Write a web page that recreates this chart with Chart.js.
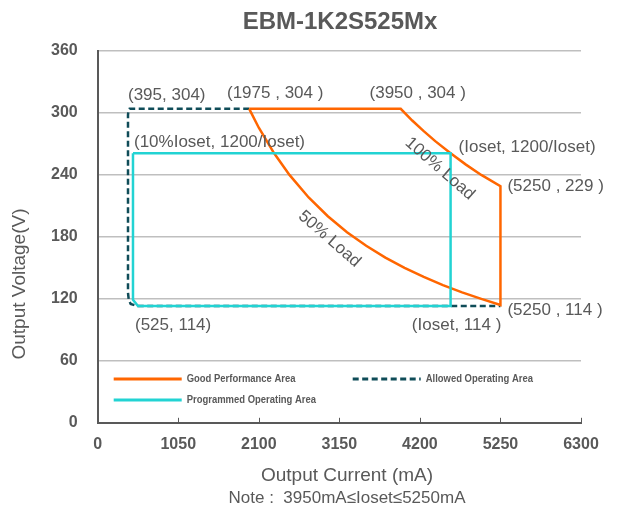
<!DOCTYPE html>
<html>
<head>
<meta charset="utf-8">
<script src="https://cdn.jsdelivr.net/npm/chart.js@4.4.0/dist/chart.umd.min.js"></script>
<style>
  html, body { margin: 0; padding: 0; background: #fff; }
  #wrap { width: 619px; height: 512px; }
</style>
</head>
<body>
<div id="wrap"><canvas id="chart" width="619" height="512"></canvas></div>
<script>
// --- DATA ---
const chartTitle = 'EBM-1K2S525Mx';
const xTitle = 'Output Current (mA)';
const yTitle = 'Output Voltage(V)';
const noteLine = 'Note :  3950mA≤Ioset≤5250mA';

const xMin = 0, xMax = 6300, xStep = 1050;
const yMin = 0, yMax = 360, yStep = 60;

const seriesNames = ['Good Performance Area', 'Allowed Operating Area', 'Programmed Operating Area'];

// good performance: top edge, 100% load curve, right edge, 50% load curve back up
const goodI = [1975, 3950, 4100, 4250, 4400, 4600, 4800, 5000, 5250, 5250, 5000, 4750, 4500, 4250, 4000, 3750, 3500, 3250, 3000, 2750, 2500, 2300, 2100, 1975];
const goodV = [304, 304, 292.7, 282.4, 272.7, 260.9, 250, 240, 229, 114, 120, 126.3, 133.3, 141.2, 150, 160, 171.4, 184.6, 200, 218.2, 240, 260.9, 285.7, 304];

const allowedI = [1975, 415, 400, 395, 395, 405, 430, 525, 5250];
const allowedV = [304, 304, 302, 298, 126, 119, 115, 113, 113];

const progI = [460, 460, 525, 4600, 4600, 460];
const progV = [261, 119, 113, 113, 261, 261];

// point annotations
const noteText = ['(395, 304)', '(1975 , 304 )', '(3950 , 304 )', '(10%Ioset, 1200/Ioset)', '(Ioset, 1200/Ioset)', '(5250 , 229 )', '(5250 , 114 )', '(Ioset, 114 )', '(525, 114)'];
const noteI = [395, 1975, 3950, 460, 4600, 5250, 5250, 4600, 525];
const noteV = [304, 304, 304, 261, 261, 229, 114, 113, 113];

const curveText = ['50% Load', '100% Load'];
const curveI = [3020, 4460];
const curveV = [178, 246];

// --- STYLE / LAYOUT ---
const GRAY = '#595959';
const colors = ['#ff6600', '#0f4c58', '#22d3d3'];
const noteLayout = [
  ['left', 0, -14], ['center', 26, -16], ['center', 17, -16],
  ['left', 1, -11], ['left', 8, -6], ['left', 7, 0],
  ['left', 7, 5], ['center', 6, 19], ['left', -3, 19]
];

function pts(xs, ys) { return xs.map((x, i) => ({ x, y: ys[i] })); }

const decor = {
  id: 'decor',
  afterDraw(chart) {
    const ctx = chart.ctx;
    const xs = chart.scales.x, ys = chart.scales.y;
    const area = chart.chartArea;
    ctx.save();
    ctx.fillStyle = GRAY;

    // title
    ctx.font = 'bold 24px Arial, "Liberation Sans", sans-serif';
    ctx.textAlign = 'center';
    ctx.textBaseline = 'middle';
    ctx.fillText(chartTitle, 340, 22);

    // axis titles and note
    ctx.font = '19px Arial, "Liberation Sans", sans-serif';
    ctx.fillText(xTitle, 347, 476);
    ctx.font = '17px Arial, "Liberation Sans", sans-serif';
    ctx.fillText(noteLine, 347, 498);
    ctx.save();
    ctx.translate(20, 284);
    ctx.rotate(-Math.PI / 2);
    ctx.font = '19px Arial, "Liberation Sans", sans-serif';
    ctx.fillText(yTitle, 0, 0);
    ctx.restore();

    // small inside tick marks on x axis
    ctx.strokeStyle = GRAY;
    ctx.lineWidth = 1;
    for (let v = xMin + xStep; v <= xMax; v += xStep) {
      const px = Math.round(xs.getPixelForValue(v)) + 0.5;
      ctx.beginPath();
      ctx.moveTo(px, area.bottom);
      ctx.lineTo(px, area.bottom - 5);
      ctx.stroke();
    }

    // point labels
    ctx.font = '17px Arial, "Liberation Sans", sans-serif';
    noteText.forEach((t, i) => {
      const [al, dx, dy] = noteLayout[i];
      ctx.textAlign = al;
      ctx.fillText(t, xs.getPixelForValue(noteI[i]) + dx, ys.getPixelForValue(noteV[i]) + dy);
    });

    // rotated curve labels
    ctx.textAlign = 'center';
    curveText.forEach((t, i) => {
      ctx.save();
      ctx.translate(xs.getPixelForValue(curveI[i]), ys.getPixelForValue(curveV[i]));
      ctx.rotate(41 * Math.PI / 180);
      ctx.fillText(t, 0, 0);
      ctx.restore();
    });

    // legend inside the plot (condensed bold text)
    const spots = [[16, 379], [255, 379], [16, 400]];
    ctx.font = 'bold 11px Arial, "Liberation Sans", sans-serif';
    ctx.textAlign = 'left';
    chart.data.datasets.forEach((ds, i) => {
      const x0 = area.left + spots[i][0], y0 = spots[i][1];
      ctx.strokeStyle = ds.borderColor;
      ctx.lineWidth = 3;
      ctx.setLineDash(ds.borderDash || []);
      ctx.beginPath();
      ctx.moveTo(x0, y0);
      ctx.lineTo(x0 + 68, y0);
      ctx.stroke();
      ctx.setLineDash([]);
      ctx.fillStyle = GRAY;
      ctx.save();
      ctx.translate(x0 + 73, y0);
      ctx.scale(0.86, 1);
      ctx.fillText(ds.label, 0, 0);
      ctx.restore();
    });
    ctx.restore();
  }
};

new Chart(document.getElementById('chart').getContext('2d'), {
  type: 'scatter',
  data: {
    datasets: [
      { label: seriesNames[0], data: pts(goodI, goodV), borderColor: colors[0], borderWidth: 2.5, order: 2 },
      { label: seriesNames[1], data: pts(allowedI, allowedV), borderColor: colors[1], borderWidth: 2.5, borderDash: [6, 3.5], order: 3 },
      { label: seriesNames[2], data: pts(progI, progV), borderColor: colors[2], borderWidth: 2.5, order: 1 }
    ].map(d => Object.assign(d, { showLine: true, pointRadius: 0, fill: false, tension: 0, backgroundColor: d.borderColor }))
  },
  options: {
    responsive: false,
    animation: false,
    layout: { padding: { left: 31, right: 38, top: 51, bottom: 54 } },
    plugins: { legend: { display: false }, tooltip: { enabled: false }, title: { display: false } },
    scales: {
      x: {
        type: 'linear', min: xMin, max: xMax,
        ticks: { stepSize: xStep, color: GRAY, font: { family: 'Arial, "Liberation Sans"', size: 16, weight: 'bold' }, padding: 4, maxRotation: 0, callback: v => String(v) },
        grid: { display: false },
        border: { color: GRAY, width: 2 }
      },
      y: {
        type: 'linear', min: yMin, max: yMax,
        ticks: { stepSize: yStep, color: GRAY, font: { family: 'Arial, "Liberation Sans"', size: 16, weight: 'bold' }, padding: 20, callback: v => String(v) },
        grid: { color: '#bfbfbf', lineWidth: 1.5, drawTicks: false },
        border: { color: GRAY, width: 2 }
      }
    }
  },
  plugins: [decor]
});
</script>
</body>
</html>
